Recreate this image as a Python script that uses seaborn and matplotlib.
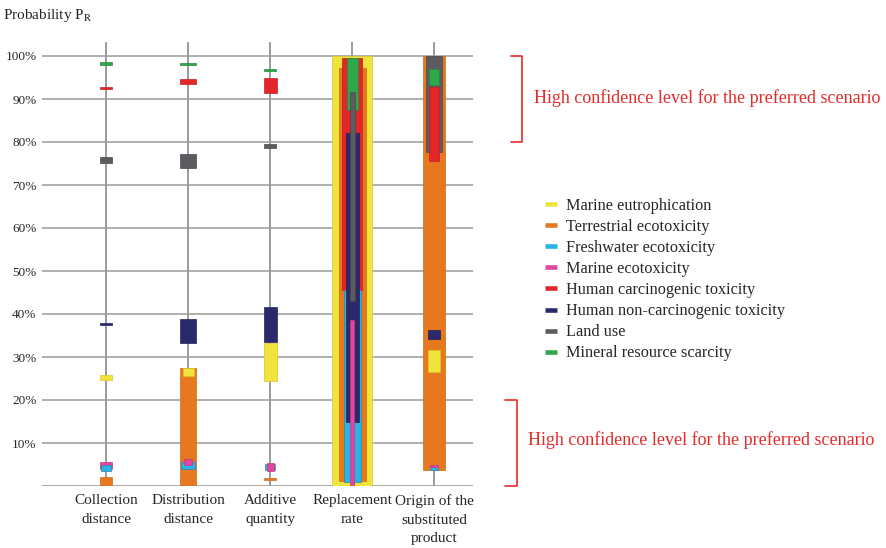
import matplotlib
matplotlib.use("Agg")
import matplotlib.pyplot as plt
import matplotlib.transforms as mtransforms
from matplotlib.lines import Line2D
import numpy as np
import seaborn as sns

# ---------------- data ----------------
categories = ["Collection\ndistance", "Distribution\ndistance", "Additive\nquantity",
              "Replacement\nrate", "Origin of the\nsubstituted\nproduct"]
impacts = ["Marine eutrophication", "Terrestrial ecotoxicity", "Freshwater ecotoxicity",
           "Marine ecotoxicity", "Human carcinogenic toxicity",
           "Human non-carcinogenic toxicity", "Land use", "Mineral resource scarcity"]
y_ticks = [10, 20, 30, 40, 50, 60, 70, 80, 90, 100]

# probability ranges (%) for each impact, one value per category
marine_eutro_lo = [24.6, 25.6, 24.5, 0.0, 26.6]
marine_eutro_hi = [25.8, 27.4, 33.2, 100.0, 31.6]
terr_eco_lo = [0.0, 0.0, 1.4, 1.2, 3.7]
terr_eco_hi = [2.2, 27.4, 1.8, 97.1, 100.0]
fresh_eco_lo = [3.6, 4.0, 3.8, 1.0, 3.8]
fresh_eco_hi = [5.0, 5.6, 5.0, 45.5, 4.7]
marine_eco_lo = [3.9, 4.9, 3.6, 0.2, 4.5]
marine_eco_hi = [5.5, 6.2, 5.3, 38.6, 5.0]
hum_carc_lo = [92.3, 93.4, 91.5, 45.6, 75.6]
hum_carc_hi = [92.7, 94.6, 94.8, 99.6, 92.9]
hum_noncarc_lo = [37.4, 33.2, 33.6, 15.0, 34.3]
hum_noncarc_hi = [37.8, 38.8, 41.7, 82.0, 36.3]
land_use_lo = [75.2, 73.9, 78.5, 43.0, 77.7]
land_use_hi = [76.6, 77.2, 79.5, 91.7, 100.0]
mineral_lo = [97.8, 97.8, 96.5, 87.5, 93.3]
mineral_hi = [98.5, 98.4, 96.9, 99.5, 96.9]

lows = [marine_eutro_lo, terr_eco_lo, fresh_eco_lo, marine_eco_lo,
        hum_carc_lo, hum_noncarc_lo, land_use_lo, mineral_lo]
highs = [marine_eutro_hi, terr_eco_hi, fresh_eco_hi, marine_eco_hi,
         hum_carc_hi, hum_noncarc_hi, land_use_hi, mineral_hi]

# ---------------- style ----------------
colors = ["#efe33c", "#e6781f", "#27b4e6", "#e0469b",
          "#e3262a", "#2a296c", "#5b5b60", "#2ea84a"]
edge_colors = ["#d8c92a", "#cf6a16", "#3a7fa8", "#c23a86",
               "#c41f22", "#23225a", "#4a4a4e", "#238a3b"]
# bar widths in pixels (converted to category units below)
bar_px = [
    [12, 11, 13, 40, 12],   # marine eutrophication
    [12, 16, 12, 27, 22],   # terrestrial ecotoxicity
    [10, 14, 10, 17, 8],    # freshwater ecotoxicity
    [12, 8, 7, 4.5, 8],     # marine ecotoxicity
    [12, 16, 13, 20, 11],   # human carcinogenic
    [12, 16, 13, 13, 12],   # human non-carcinogenic
    [12, 16, 12, 5, 16],    # land use
    [12, 16, 12, 11, 11],   # mineral resource scarcity
]
PX_PER_CAT = 82.0

sns.set_style("white")
plt.rcParams["font.family"] = ["Liberation Serif", "DejaVu Serif"]
plt.rcParams["mathtext.fontset"] = "stix"

W, H = 886, 548
fig = plt.figure(figsize=(W / 100, H / 100), dpi=100)
ax_left, ax_right, ax_top, ax_bottom = 42, 473, 42, 486
ax = fig.add_axes([ax_left / W, 1 - ax_bottom / H,
                   (ax_right - ax_left) / W, (ax_bottom - ax_top) / H])

x0_px = 106
ax.set_xlim((ax_left - x0_px) / PX_PER_CAT, (ax_right - x0_px) / PX_PER_CAT)
ax.set_ylim(0, 100 * (ax_bottom - ax_top) / (ax_bottom - 56))

# bars: within each category draw the widest first
for ci in range(len(categories)):
    order = sorted(range(len(impacts)), key=lambda k: -bar_px[k][ci])
    for k in order:
        lo, hi = lows[k][ci], highs[k][ci]
        ax.bar(ci, hi - lo, bottom=lo, width=bar_px[k][ci] / PX_PER_CAT,
               color=colors[k], edgecolor=edge_colors[k], linewidth=0.5, zorder=3)

# grid and axes
grid_col = "#9a9a9a"
ax.set_axisbelow(True)
ax.set_yticks(y_ticks)
ax.set_yticklabels([f"{v}%" for v in y_ticks], fontsize=9.5)
ax.set_xticks(range(len(categories)))
ax.set_xticklabels([""] * len(categories))
ax.grid(axis="y", color=grid_col, linewidth=1.1)
ax.grid(axis="x", color="#808080", linewidth=1.1)
ax.axhline(0, color=grid_col, linewidth=1.2, zorder=1)
ax.tick_params(axis="y", length=0, pad=4)
ax.tick_params(axis="x", length=4.5, width=1.1, color="#808080", pad=2, direction="out")
sns.despine(ax=ax, left=True, bottom=True, top=True, right=True)

# category labels (multi-line, explicit spacing)
xlab_tr = mtransforms.blended_transform_factory(ax.transData, ax.transAxes)
for ci, lab in enumerate(categories):
    ax.annotate(lab, xy=(ci, 0), xycoords=xlab_tr, xytext=(0, -6),
                textcoords="offset points", ha="center", va="top",
                fontsize=11, linespacing=1.55, annotation_clip=False)

# y-axis title
fig.text(3 / W, 1 - 15 / H, r"Probability P$_\mathrm{R}$", fontsize=11, va="center", ha="left")

# red brackets and annotations
red = "#e52a2a"
blend = mtransforms.blended_transform_factory(ax.transAxes, ax.transData)
def axx(px):
    return (px - ax_left) / (ax_right - ax_left)
ax.plot([axx(511), axx(522), axx(522), axx(511)], [100, 100, 80, 80],
        color=red, lw=1.2, transform=blend, clip_on=False)
ax.plot([axx(505), axx(517), axx(517), axx(505)], [20, 20, -0.1, -0.1],
        color=red, lw=1.2, transform=blend, clip_on=False)
ax.text(axx(534), 90.3, "High confidence level for the preferred scenario",
        color=red, fontsize=13, va="center", ha="left", transform=blend, clip_on=False)
ax.text(axx(528), 10.7, "High confidence level for the preferred scenario",
        color=red, fontsize=13, va="center", ha="left", transform=blend, clip_on=False)

# legend
handles = [Line2D([0], [0], color=c, lw=3.3, solid_capstyle="butt") for c in colors]
fig.legend(handles, impacts, loc="upper left", bbox_to_anchor=(545 / W, 1 - 198 / H),
           frameon=False, fontsize=11.7, handlelength=0.75, handletextpad=0.55,
           labelspacing=0.31, borderpad=0, borderaxespad=0)

fig.savefig("out.png", dpi=100)
